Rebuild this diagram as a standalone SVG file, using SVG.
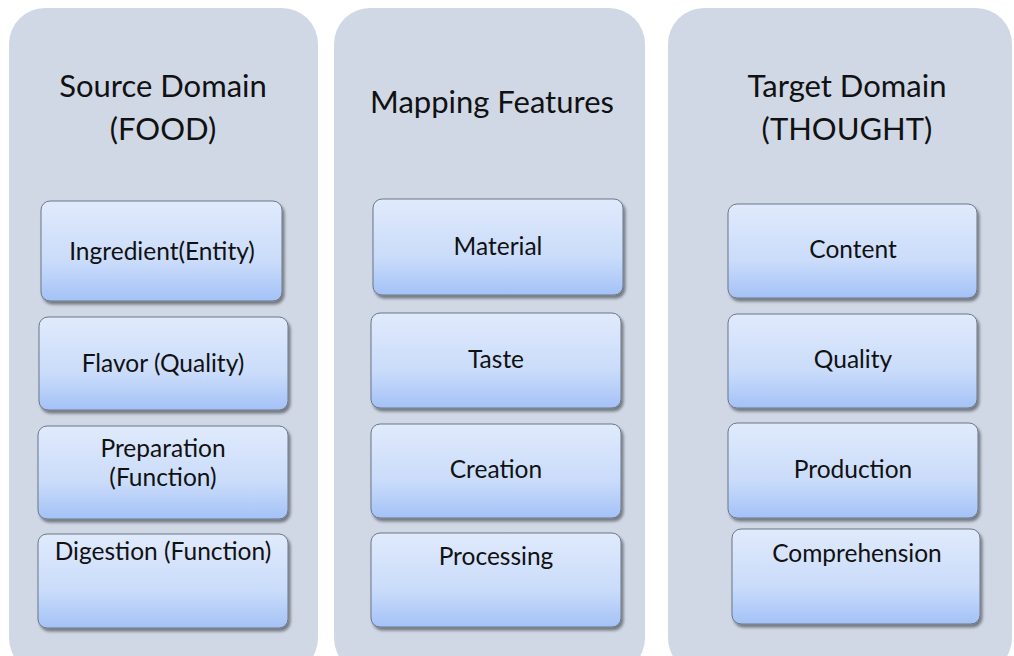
<svg xmlns="http://www.w3.org/2000/svg" width="1014" height="656" viewBox="0 0 1014 656">
<defs>
<linearGradient id="boxg" x1="0" y1="0" x2="0" y2="1">
<stop offset="0" stop-color="#e0eafc"/>
<stop offset="0.6" stop-color="#cadcfa"/>
<stop offset="1" stop-color="#a4c2f7"/>
</linearGradient>
<filter id="sh" x="-10%" y="-10%" width="120%" height="130%">
<feGaussianBlur in="SourceAlpha" stdDeviation="1.5"/>
<feOffset dx="1.5" dy="2.5" result="o"/>
<feComponentTransfer><feFuncA type="linear" slope="0.45"/></feComponentTransfer>
<feMerge><feMergeNode/><feMergeNode in="SourceGraphic"/></feMerge>
</filter>
</defs>
<style>
.panel{fill:#d0d8e6;}
.box{fill:url(#boxg);stroke:#6b7686;stroke-width:1;filter:url(#sh);}
.title{font-family:Lato,"Liberation Sans",sans-serif;font-size:31px;fill:#111;text-anchor:middle;}
.lbl{font-family:Lato,"Liberation Sans",sans-serif;font-size:24.5px;fill:#111;text-anchor:middle;}
</style>
<rect width="1014" height="656" fill="#ffffff"/>
<g id="panel-source">
<rect class="panel" x="9" y="8" width="309" height="666" rx="36"/>
<text class="title" x="163" y="97">Source Domain</text>
<text class="title" x="163" y="140">(FOOD)</text>
</g>
<g id="panel-mapping">
<rect class="panel" x="334" y="8" width="311" height="666" rx="36"/>
<text class="title" x="492" y="113">Mapping Features</text>
</g>
<g id="panel-target">
<rect class="panel" x="668" y="8" width="344" height="666" rx="36"/>
<text class="title" x="847" y="97">Target Domain</text>
<text class="title" x="847" y="140">(THOUGHT)</text>
</g>
<g id="node-ingredient">
<rect class="box" x="41" y="201" width="241" height="100" rx="9"/>
<text class="lbl" x="162" y="260">Ingredient(Entity)</text>
</g>
<g id="node-flavor">
<rect class="box" x="39" y="317" width="249" height="93" rx="9"/>
<text class="lbl" x="163" y="372">Flavor (Quality)</text>
</g>
<g id="node-preparation">
<rect class="box" x="38" y="426" width="250" height="93" rx="9"/>
<text class="lbl" x="163" y="457">Preparation</text>
<text class="lbl" x="163" y="486">(Function)</text>
</g>
<g id="node-digestion">
<rect class="box" x="38" y="534" width="250" height="94" rx="9"/>
<text class="lbl" x="163" y="560">Digestion (Function)</text>
</g>
<g id="node-material">
<rect class="box" x="373" y="199" width="250" height="96" rx="9"/>
<text class="lbl" x="498" y="255">Material</text>
</g>
<g id="node-taste">
<rect class="box" x="371" y="313" width="250" height="95" rx="9"/>
<text class="lbl" x="496" y="368">Taste</text>
</g>
<g id="node-creation">
<rect class="box" x="371" y="424" width="250" height="94" rx="9"/>
<text class="lbl" x="496" y="478">Creation</text>
</g>
<g id="node-processing">
<rect class="box" x="371" y="533" width="250" height="94" rx="9"/>
<text class="lbl" x="496" y="565">Processing</text>
</g>
<g id="node-content">
<rect class="box" x="728" y="204" width="249" height="94" rx="9"/>
<text class="lbl" x="853" y="258">Content</text>
</g>
<g id="node-quality">
<rect class="box" x="728" y="314" width="249" height="94" rx="9"/>
<text class="lbl" x="853" y="368">Quality</text>
</g>
<g id="node-production">
<rect class="box" x="728" y="423" width="250" height="95" rx="9"/>
<text class="lbl" x="853" y="478">Production</text>
</g>
<g id="node-comprehension">
<rect class="box" x="732" y="529" width="248" height="95" rx="9"/>
<text class="lbl" x="857" y="562">Comprehension</text>
</g>
<g id="connectors"></g>
</svg>
